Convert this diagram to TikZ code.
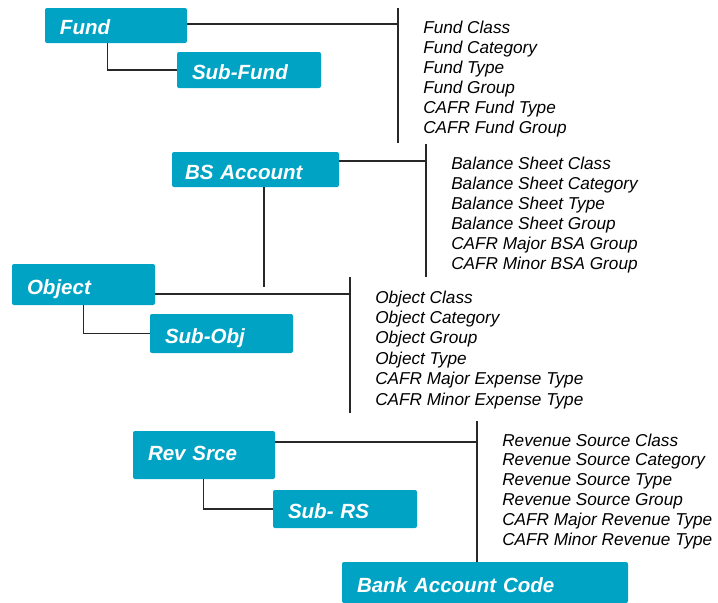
\documentclass[tikz,border=0pt]{standalone}
\usepackage{fontspec}
\setmainfont{Liberation Sans}
\definecolor{boxblue}{RGB}{0,163,196}
\definecolor{linegray}{RGB}{40,40,40}
\begin{document}
\begin{tikzpicture}[x=0.75pt,y=-0.75pt,
  box/.style={fill=boxblue, rounded corners=1.5pt, inner xsep=11.25pt, inner ysep=0pt,
    align=left, text=white, font=\fontsize{15.4}{18}\selectfont\bfseries\itshape,
    text height=14.25pt, text depth=0pt},
  conn/.style={draw=linegray, line width=1.1pt},
  item/.style={anchor=base west, inner sep=0pt, font=\fontsize{12.9}{15}\selectfont\itshape}]
\useasboundingbox (0,0) rectangle (718,603);

% boxes
\node[box, text width=84pt,    minimum height=26.25pt] (Fund)    at (116,25.5)  {Fund};
\node[box, text width=85.5pt,  minimum height=27pt]    (SubFund) at (249,70)    {Sub-Fund};
\node[box, text width=105.75pt,minimum height=26.25pt, inner xsep=9.75pt] (BS) at (255.5,169.5) {BS Account};
\node[box, text width=84.75pt, minimum height=30.75pt] (Object)  at (83.5,284.5) {Object};
\node[box, text width=84.75pt, minimum height=29.25pt] (SubObj)  at (221.5,333.5) {Sub-Obj};
\node[box, text width=84pt,    minimum height=36pt, text height=7.5pt] (Rev) at (204,455) {Rev Srce};
\node[box, text width=85.5pt,  minimum height=28.5pt]  (SubRS)   at (345,509)   {Sub- RS};
\node[box, text width=192pt,   minimum height=30.75pt] (Bank)    at (485,582.5) {Bank Account Code};

% junction coordinates
\coordinate (fj) at (398,24);
\coordinate (ft) at (398,8);
\coordinate (fb) at (398,143);
\coordinate (bj) at (426,161);
\coordinate (bt) at (426,144);
\coordinate (bb) at (426,277);
\coordinate (bsend) at (264,287);
\coordinate (oj) at (350,294);
\coordinate (ot) at (350,277);
\coordinate (ob) at (350,413);
\coordinate (rj) at (477,442);
\coordinate (rt) at (477,421);

% connectors
\draw[conn] (ft) -- (fb);
\draw[conn] (Fund.east |- fj) -- (fj);
\draw[conn] (Fund.south west) ++(63,0) |- (SubFund.west);

\draw[conn] (bt) -- (bb);
\draw[conn] (BS.east |- bj) -- (bj);
\draw[conn] (BS.south -| bsend) -- (bsend);

\draw[conn] (ot) -- (ob);
\draw[conn] (Object.east |- oj) -- (oj);
\draw[conn] (Object.south west) ++(72,0) |- (SubObj.west);

\draw[conn] (rt) -- (Bank.north -| rt);
\draw[conn] (Rev.east |- rj) -- (rj);
\draw[conn] (Rev.south west) ++(71,0) |- (SubRS.west);

% lists
\foreach \t [count=\i from 0] in {Fund Class, Fund Category, Fund Type, Fund Group, CAFR Fund Type, CAFR Fund Group}
  \node[item] (fl\i) at (423,{33+20*\i}) {\t};
\foreach \t [count=\i from 0] in {Balance Sheet Class, Balance Sheet Category, Balance Sheet Type, Balance Sheet Group, CAFR Major BSA Group, CAFR Minor BSA Group}
  \node[item] (bl\i) at (451,{169+20*\i}) {\t};
\foreach \t [count=\i from 0] in {Object Class, Object Category, Object Group, Object Type, CAFR Major Expense Type, CAFR Minor Expense Type}
  \node[item] (ol\i) at (375,{303+20.4*\i}) {\t};
\foreach \t [count=\i from 0] in {Revenue Source Class, Revenue Source Category, Revenue Source Type, Revenue Source Group, CAFR Major Revenue Type, CAFR Minor Revenue Type}
  \node[item] (rl\i) at (502,{446+19.8*\i}) {\t};
\end{tikzpicture}
\end{document}
